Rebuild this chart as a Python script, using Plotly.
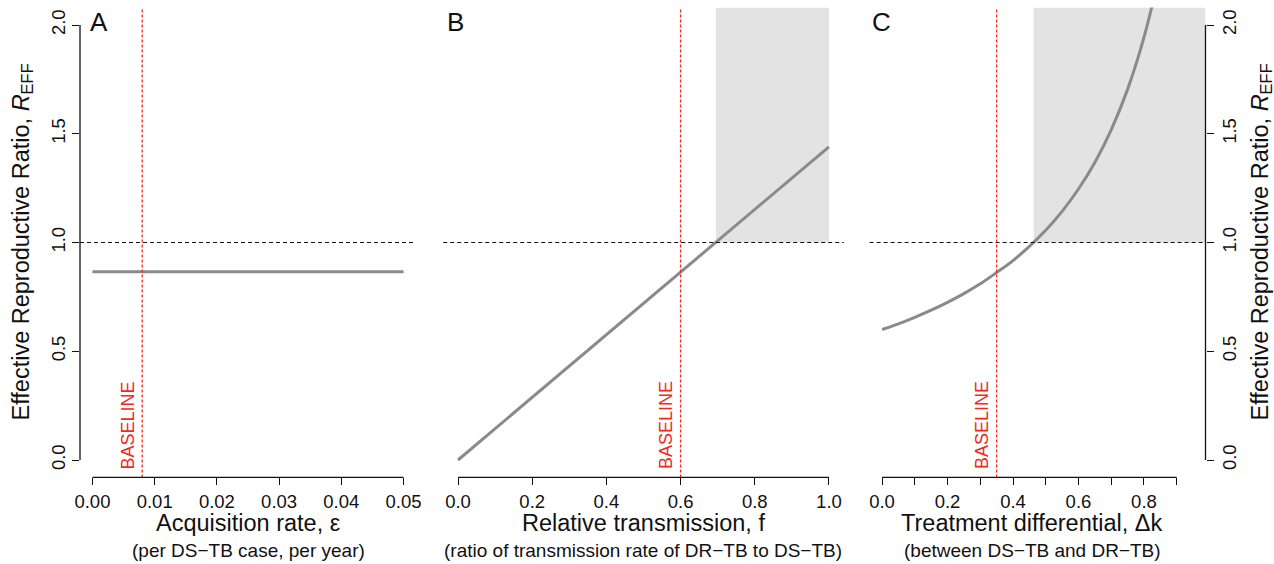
import plotly.graph_objects as go

# ---------------- data ----------------
# Panel A: acquisition rate (epsilon) vs R_EFF
eps_x = [0.0, 0.01, 0.02, 0.03, 0.04, 0.05]
eps_r = [0.865, 0.865, 0.865, 0.865, 0.865, 0.865]
eps_baseline = 0.008
eps_ticks = [0.0, 0.01, 0.02, 0.03, 0.04, 0.05]
eps_ticktext = ["0.00", "0.01", "0.02", "0.03", "0.04", "0.05"]

# Panel B: relative transmission f vs R_EFF
f_x = [0.0, 0.2, 0.4, 0.6, 0.8, 1.0]
f_r = [0.0, 0.288, 0.576, 0.864, 1.152, 1.44]
f_baseline = 0.6
f_threshold = 0.695
f_ticks = [0.0, 0.2, 0.4, 0.6, 0.8, 1.0]
f_ticktext = ["0.0", "0.2", "0.4", "0.6", "0.8", "1.0"]

# Panel C: treatment differential dk vs R_EFF
dk_x = [0.0, 0.05, 0.1, 0.15, 0.2, 0.25, 0.3, 0.35, 0.4, 0.45, 0.5, 0.55, 0.6, 0.65, 0.7, 0.75, 0.8, 0.85]
dk_r = [0.600, 0.626, 0.656, 0.689, 0.725, 0.765, 0.810, 0.862, 0.917, 0.982, 1.056, 1.143, 1.246,
        1.368, 1.518, 1.704, 1.943, 2.25]
dk_baseline = 0.35
dk_threshold = 0.463
dk_ticks = [0.0, 0.2, 0.4, 0.6, 0.8]
dk_ticktext = ["0.0", "0.2", "0.4", "0.6", "0.8"]

y_ticks = [0.0, 0.5, 1.0, 1.5, 2.0]
y_ticktext = ["0.0", "0.5", "1.0", "1.5", "2.0"]

# ---------------- style ----------------
FONT = "Liberation Sans, Arial, Helvetica, sans-serif"
W, H = 1274, 564
CURVE = "#8a8a8a"
RED = "#f2291e"
BOX = "#e3e3e3"
TICKF = 18.5
SUBF = 19
TITLEF = 23.5

YDOM = [1 - 477.4 / H, 1 - 7.6 / H]
XDOM_A = [80 / W, 416 / W]
XDOM_B = [443.2 / W, 843.8 / W]
XDOM_C = [869.6 / W, 1205.5 / W]

fig = go.Figure()
line_style = dict(color=CURVE, width=3)
fig.add_trace(go.Scatter(x=eps_x, y=eps_r, mode="lines", line=line_style, xaxis="x", yaxis="y", showlegend=False))
fig.add_trace(go.Scatter(x=f_x, y=f_r, mode="lines", line=line_style, xaxis="x2", yaxis="y2", showlegend=False))
fig.add_trace(go.Scatter(x=dk_x, y=dk_r, mode="lines", line=dict(color=CURVE, width=3, shape="spline", smoothing=1.0),
                         xaxis="x3", yaxis="y3", showlegend=False))

tick_common = dict(ticks="outside", ticklen=7, tickwidth=1.2, tickcolor="#111", showgrid=False,
                   zeroline=False, showline=False, automargin=False,
                   tickfont=dict(family=FONT, size=TICKF, color="#111"))

fig.update_layout(
    template="none",
    width=W, height=H,
    margin=dict(l=0, r=0, t=0, b=0, autoexpand=False),
    paper_bgcolor="white", plot_bgcolor="white",
    xaxis=dict(domain=XDOM_A, range=[-0.002, 0.052], anchor="y", tickmode="array",
               tickvals=eps_ticks, ticktext=eps_ticktext, **tick_common),
    xaxis2=dict(domain=XDOM_B, range=[-0.04, 1.04], anchor="y2", tickmode="array",
                tickvals=f_ticks, ticktext=f_ticktext, **tick_common),
    xaxis3=dict(domain=XDOM_C, range=[-0.038, 0.988], anchor="y3", tickmode="array",
                tickvals=dk_ticks, ticktext=dk_ticktext,
                minor=dict(ticks="outside", ticklen=7, tickwidth=1.2, tickcolor="#111",
                           tickmode="array", tickvals=[0.1, 0.3, 0.5, 0.7, 0.9], showgrid=False),
                **tick_common),
    yaxis=dict(domain=YDOM, range=[-0.08, 2.08], anchor="x", tickmode="array",
               tickvals=y_ticks, ticktext=y_ticktext, tickangle=-90, **tick_common),
    yaxis2=dict(domain=YDOM, range=[-0.08, 2.08], anchor="x2", showticklabels=False, automargin=False,
                showgrid=False, zeroline=False, showline=False, ticks=""),
    yaxis3=dict(domain=YDOM, range=[-0.08, 2.08], anchor="x3", side="right", tickmode="array",
                tickvals=y_ticks, ticktext=y_ticktext, tickangle=-90, **tick_common),
)

shapes = []
# shaded regions
shapes.append(dict(type="rect", xref="x2", yref="y2", x0=f_threshold, x1=1.0, y0=1.0, y1=2.08,
                   fillcolor=BOX, line=dict(width=0), layer="below"))
shapes.append(dict(type="rect", xref="x3", yref="y3", x0=dk_threshold, x1=0.988, y0=1.0, y1=2.08,
                   fillcolor=BOX, line=dict(width=0), layer="below"))
# reference lines
for xr, yr, base in [("x", "y", eps_baseline), ("x2", "y2", f_baseline), ("x3", "y3", dk_baseline)]:
    shapes.append(dict(type="line", xref=xr + " domain", yref=yr, x0=0, x1=1, y0=1.0, y1=1.0,
                       line=dict(color="#111", width=1.2, dash="4px,3px"), layer="above"))
    shapes.append(dict(type="line", xref=xr, yref=yr + " domain", x0=base, x1=base, y0=0, y1=1,
                       line=dict(color=RED, width=1.3, dash="3px,2px"), layer="above"))
# axis lines (span only tick range, R-style)
AX = dict(color="#111", width=1.3)
shapes.append(dict(type="line", xref="x", yref="y domain", x0=0.0, x1=0.05, y0=0, y1=0, line=AX))
shapes.append(dict(type="line", xref="x2", yref="y2 domain", x0=0.0, x1=1.0, y0=0, y1=0, line=AX))
shapes.append(dict(type="line", xref="x3", yref="y3 domain", x0=0.0, x1=0.9, y0=0, y1=0, line=AX))
shapes.append(dict(type="line", xref="x domain", yref="y", x0=0, x1=0, y0=0.0, y1=2.0, line=AX))
shapes.append(dict(type="line", xref="x3 domain", yref="y3", x0=1, x1=1, y0=0.0, y1=2.0, line=AX))
fig.update_layout(shapes=shapes)

ann = []
# panel letters
for letter, px in [("A", 88), ("B", 445), ("C", 870)]:
    ann.append(dict(text=letter, xref="paper", yref="paper", x=px / W, y=1 - 22.5 / H,
                    xanchor="left", yanchor="middle", showarrow=False,
                    font=dict(family=FONT, size=26, color="#111")))
# BASELINE labels
for xr, yr, base in [("x", "y", eps_baseline), ("x2", "y2", f_baseline), ("x3", "y3", dk_baseline)]:
    ann.append(dict(text="BASELINE", xref=xr, yref=yr + " domain", x=base, y=0, xanchor="right",
                    yanchor="bottom", xshift=-2, yshift=6, textangle=-90, showarrow=False,
                    font=dict(family=FONT, size=18, color=RED)))
# x titles
xt = [("Acquisition rate, ε", "(per DS−TB case, per year)", 248),
      ("Relative transmission, f", "(ratio of transmission rate of DR−TB to DS−TB)", 643.5),
      ("Treatment differential, Δk", "(between DS−TB and DR−TB)", 1032)]
for t, s, cx in xt:
    ann.append(dict(text=t, xref="paper", yref="paper", x=cx / W, y=1 - 523 / H, xanchor="center",
                    yanchor="middle", showarrow=False, font=dict(family=FONT, size=TITLEF, color="#111")))
    ann.append(dict(text=s, xref="paper", yref="paper", x=cx / W, y=1 - 550 / H, xanchor="center",
                    yanchor="middle", showarrow=False, font=dict(family=FONT, size=SUBF, color="#111")))
# y titles
ytitle = "Effective Reproductive Ratio, <i>R</i><sub>EFF</sub>"
for cx in [22, 1261]:
    ann.append(dict(text=ytitle, xref="paper", yref="paper", x=cx / W, y=1 - 242.5 / H, xanchor="center",
                    yanchor="middle", textangle=-90, showarrow=False,
                    font=dict(family=FONT, size=TITLEF, color="#111")))
fig.update_layout(annotations=ann)

fig.write_html("out.html", config={"displayModeBar": False},
               post_script="document.body.style.margin='0px';document.body.style.overflow='hidden';")
